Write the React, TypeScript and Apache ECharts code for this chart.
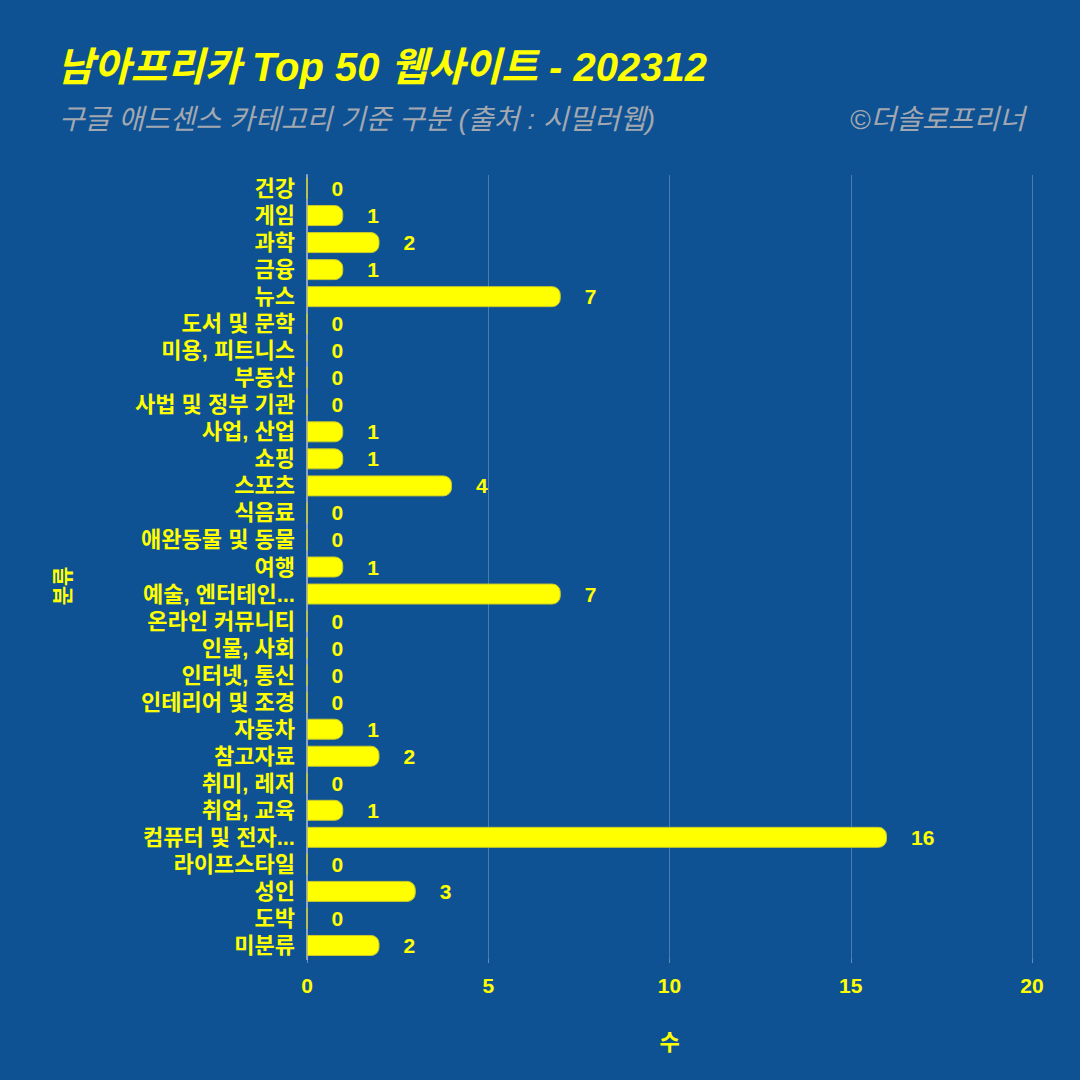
import React, { useEffect, useRef } from "react";
import * as echarts from "echarts";

const categories = [
  "건강", "게임", "과학", "금융", "뉴스", "도서 및 문학", "미용, 피트니스", "부동산",
  "사법 및 정부 기관", "사업, 산업", "쇼핑", "스포츠", "식음료", "애완동물 및 동물", "여행",
  "예술, 엔터테인...", "온라인 커뮤니티", "인물, 사회", "인터넷, 통신", "인테리어 및 조경",
  "자동차", "참고자료", "취미, 레저", "취업, 교육", "컴퓨터 및 전자...", "라이프스타일",
  "성인", "도박", "미분류",
];
const values = [0, 1, 2, 1, 7, 0, 0, 0, 0, 1, 1, 4, 0, 0, 1, 7, 0, 0, 0, 0, 1, 2, 0, 1, 16, 0, 3, 0, 2];
const xTicks = { min: 0, max: 20, interval: 5 };

const titleText = "남아프리카 Top 50 웹사이트 - 202312";
const subtitleText = "구글 애드센스 카테고리 기준 구분 (출처 : 시밀러웹)";
const creditText = "©더솔로프리너";
const xName = "수";
const yName = "분류";

const FONT = "'Liberation Sans', 'Noto Sans CJK KR', sans-serif";
const YELLOW = "#ffff00";
const BG = "#0e5294";
const GRAY = "#a3a8b0";

export default function App() {
  const ref = useRef<HTMLDivElement>(null);
  useEffect(() => {
    if (!ref.current) return;
    const chart = echarts.init(ref.current, null, { renderer: "svg" });
    chart.setOption({
      animation: false,
      backgroundColor: BG,
      textStyle: { fontFamily: FONT },
      title: [
        {
          text: titleText,
          left: 52,
          top: 42,
          textStyle: { color: YELLOW, fontSize: 40, fontWeight: "bold", fontStyle: "italic", fontFamily: FONT },
        },
        {
          text: subtitleText,
          left: 54,
          top: 100,
          textStyle: { color: GRAY, fontSize: 28, fontWeight: "normal", fontStyle: "italic", fontFamily: FONT },
        },
        {
          text: creditText,
          right: 50,
          top: 100,
          textStyle: { color: GRAY, fontSize: 28, fontWeight: "normal", fontStyle: "italic", fontFamily: FONT },
        },
      ],
      graphic: [
        {
          type: "text",
          x: 62,
          y: 586,
          rotation: Math.PI / 2,
          style: {
            text: yName,
            fill: YELLOW,
            font: `bold 21px ${FONT}`,
            textAlign: "center",
            textVerticalAlign: "middle",
          },
        },
      ],
      grid: { left: 307, right: 48, top: 175, bottom: 121, containLabel: false },
      xAxis: {
        type: "value",
        min: xTicks.min,
        max: xTicks.max,
        interval: xTicks.interval,
        name: xName,
        nameLocation: "middle",
        nameGap: 72,
        nameTextStyle: { color: YELLOW, fontSize: 22, fontWeight: "bold", fontFamily: FONT },
        axisLine: { show: false },
        axisTick: { show: true, length: 4, lineStyle: { color: "rgba(255,255,255,0.35)" } },
        axisLabel: { color: YELLOW, fontSize: 21, fontWeight: "bold", margin: 16, fontFamily: FONT },
        splitLine: { show: true, lineStyle: { color: "rgba(255,255,255,0.25)", width: 1 } },
      },
      yAxis: {
        type: "category",
        data: categories,
        inverse: true,
        axisLine: { show: true, lineStyle: { color: "#8ea6c4", width: 2 } },
        axisTick: { show: false },
        axisLabel: { interval: 0, color: YELLOW, fontSize: 22, fontWeight: "bold", margin: 12, fontFamily: FONT },
        splitLine: { show: false },
      },
      series: [
        {
          type: "bar",
          data: values,
          barWidth: 21,
          itemStyle: { color: YELLOW, borderColor: "#c9c92a", borderWidth: 1, borderRadius: [0, 8, 8, 0] },
          label: {
            show: true,
            position: "right",
            distance: 24,
            color: YELLOW,
            fontSize: 21,
            fontWeight: "bold",
            fontFamily: FONT,
          },
        },
      ],
    });
    return () => chart.dispose();
  }, []);
  return <div ref={ref} style={{ width: 1080, height: 1080, position: "absolute", left: 0, top: 0 }} />;
}
